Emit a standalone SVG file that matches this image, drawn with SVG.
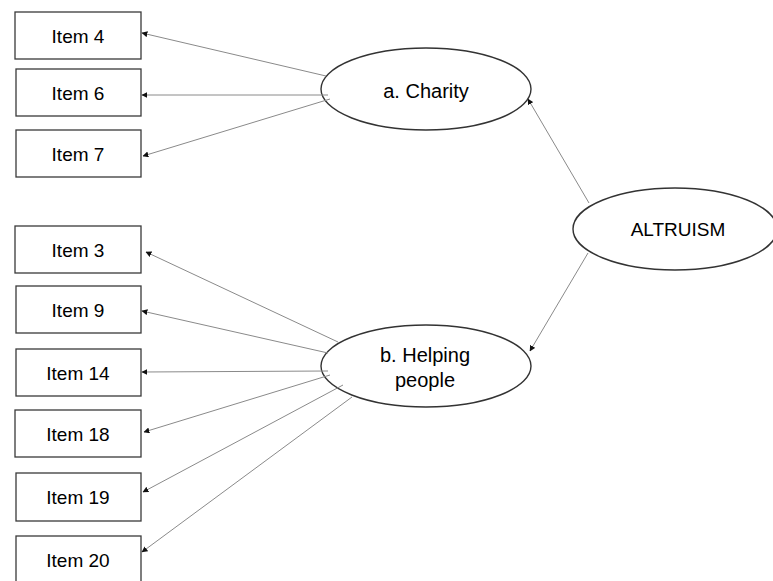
<svg xmlns="http://www.w3.org/2000/svg" width="773" height="581" viewBox="0 0 773 581">
<style>
.box{fill:#fff;stroke:#3a3a3a;stroke-width:1.3}
.ell{fill:#fff;stroke:#333;stroke-width:1.4}
.t{font-family:"Liberation Sans",Arial,sans-serif;font-size:19px;fill:#000;text-anchor:middle}
.c{stroke:#8a8a8a;stroke-width:1;fill:none;marker-end:url(#ah)}
</style>
<defs>
<marker id="ah" viewBox="0 0 10 10" refX="9" refY="5" markerWidth="6" markerHeight="6" markerUnits="userSpaceOnUse" orient="auto">
<path d="M0,0 L10,5 L0,10 z" fill="#111"/>
</marker>
</defs>
<rect width="773" height="581" fill="#fff"/>
<g id="item4"><rect class="box" x="15" y="12" width="126" height="47"/><text class="t" x="78" y="43">Item 4</text></g>
<g id="item6"><rect class="box" x="16" y="69" width="125" height="47"/><text class="t" x="78" y="100">Item 6</text></g>
<g id="item7"><rect class="box" x="16" y="130" width="125" height="47"/><text class="t" x="78" y="161">Item 7</text></g>
<g id="item3"><rect class="box" x="15" y="226" width="126" height="47"/><text class="t" x="78" y="257">Item 3</text></g>
<g id="item9"><rect class="box" x="16" y="286" width="125" height="47"/><text class="t" x="78" y="317">Item 9</text></g>
<g id="item14"><rect class="box" x="16" y="349" width="125" height="47"/><text class="t" x="78" y="380">Item 14</text></g>
<g id="item18"><rect class="box" x="15" y="410" width="126" height="47"/><text class="t" x="78" y="441">Item 18</text></g>
<g id="item19"><rect class="box" x="16" y="473" width="125" height="48"/><text class="t" x="78" y="504">Item 19</text></g>
<g id="item20"><rect class="box" x="16" y="536" width="125" height="50"/><text class="t" x="78" y="567">Item 20</text></g>
<g id="charity"><ellipse class="ell" cx="426" cy="89" rx="105" ry="41"/><text class="t" x="426" y="98" style="font-size:20px">a. Charity</text></g>
<g id="helping"><ellipse class="ell" cx="426" cy="366" rx="105" ry="41"/><text class="t" x="425" y="362" style="font-size:20px">b. Helping</text><text class="t" x="425" y="387" style="font-size:20px">people</text></g>
<g id="altruism"><ellipse class="ell" cx="675" cy="229" rx="102" ry="41"/><text class="t" x="678" y="236">ALTRUISM</text></g>
<g id="connectors">
<line class="c" x1="326" y1="76" x2="142" y2="33"/>
<line class="c" x1="328" y1="95" x2="142" y2="95"/>
<line class="c" x1="330" y1="99" x2="143" y2="156"/>
<line class="c" x1="589" y1="203" x2="528" y2="99"/>
<line class="c" x1="588" y1="253" x2="530" y2="351"/>
<line class="c" x1="338" y1="342" x2="146" y2="252"/>
<line class="c" x1="328" y1="353" x2="142" y2="311"/>
<line class="c" x1="328" y1="371" x2="142" y2="372"/>
<line class="c" x1="330" y1="375" x2="144" y2="432"/>
<line class="c" x1="343" y1="385" x2="143" y2="492"/>
<line class="c" x1="352" y1="397" x2="142" y2="552"/>
</g>
</svg>
